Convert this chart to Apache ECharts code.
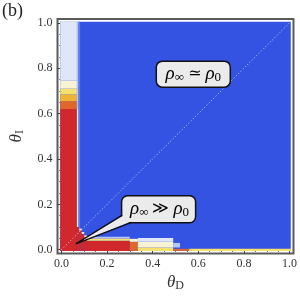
<!DOCTYPE html>
<html><head><meta charset="utf-8">
<script src="https://cdn.jsdelivr.net/npm/echarts@6/dist/echarts.min.js"></script>
<style>html,body{margin:0;padding:0;background:#fff}#c{width:300px;height:297px}</style>
</head><body><div id="c"></div>
<script>
// ---- data ----
const majorTicks = [0, 0.2, 0.4, 0.6, 0.8, 1.0];
const tickLabels = ['0.0', '0.2', '0.4', '0.6', '0.8', '1.0'];
const minorTicks = [0.05, 0.1, 0.15, 0.25, 0.3, 0.35, 0.45, 0.5, 0.55, 0.65, 0.7, 0.75, 0.85, 0.9, 0.95];
// colour levels of the density map (low ratio -> high ratio)
const levelColors = ['#3453e3', '#5d7bea', '#b7c7f3', '#dfe6f7', '#f9f3d6', '#f6e070', '#efb436', '#e0672c', '#d0282c'];
// map regions: [thetaD0, thetaI0, thetaD1, thetaI1, level]
const regions = [
  [-0.005, -0.005, 1.005, 1.005, 0],
  [-0.005, -0.005, 0.068, 0.62, 8],
  [-0.005, 0.62, 0.068, 0.655, 7],
  [-0.005, 0.655, 0.068, 0.685, 6],
  [-0.005, 0.685, 0.068, 0.71, 5],
  [-0.005, 0.71, 0.068, 0.745, 4],
  [-0.005, 0.745, 0.068, 1.005, 3],
  [0.068, 0.10, 0.075, 0.62, 4],
  [0.068, 0.62, 0.075, 1.005, 2],
  [0.075, 0.09, 0.082, 1.005, 1],
  [0.068, -0.005, 0.078, 0.10, 8],
  [0.078, -0.005, 0.089, 0.085, 8],
  [0.089, -0.005, 0.10, 0.07, 8],
  [0.10, -0.005, 0.112, 0.055, 8],
  [0.078, 0.085, 0.089, 0.093, 4],
  [0.089, 0.07, 0.10, 0.078, 4],
  [0.10, 0.055, 0.112, 0.063, 4],
  [0.112, -0.005, 0.30, 0.04, 8],
  [0.112, 0.04, 0.30, 0.05, 5],
  [0.112, 0.05, 0.30, 0.057, 2],
  [0.30, -0.005, 0.335, 0.035, 7],
  [0.30, 0.035, 0.335, 0.048, 4],
  [0.335, -0.005, 0.49, 0.01, 5],
  [0.335, 0.01, 0.49, 0.035, 4],
  [0.335, 0.035, 0.49, 0.052, 3],
  [0.49, 0.01, 0.52, 0.03, 2],
  [0.49, -0.005, 0.56, 0.004, 7],
  [0.56, -0.005, 1.005, 0.004, 5]
];
const diagonal = [[0, 0], [1, 1]];
// annotation anchors (data coordinates)
const noteEqual = { center: [0.578, 0.774] };
const noteMuch = { center: [0.426, 0.181], tip: [0.063, 0.026] };

const chart = echarts.init(document.getElementById('c'), null, { renderer: 'canvas' });
const AX_MIN = -0.017, AX_MAX = 1.017;
const serif = 'Liberation Serif';
const fmt = v => { for (let i = 0; i < majorTicks.length; i++) if (Math.abs(v - majorTicks[i]) < 1e-6) return tickLabels[i]; return ''; };

function mkAxis(kind, pos, ticks, len, withLabels, extra) {
  const a = {
    type: 'value', min: AX_MIN, max: AX_MAX, position: pos,
    axisLine: { show: false }, splitLine: { show: false },
    axisTick: { show: true, inside: true, length: len, customValues: ticks, lineStyle: { color: '#444', width: 1 } },
    axisLabel: withLabels ? { show: true, customValues: majorTicks, formatter: fmt, fontFamily: serif, fontSize: 12, color: '#333', margin: kind === 'x' ? 4 : 5 } : { show: false }
  };
  return Object.assign(a, extra || {});
}

const xName = { name: '{t|θ}{s|D}', nameLocation: 'middle', nameGap: 14,
  nameTextStyle: { rich: { t: { fontFamily: serif, fontStyle: 'italic', fontSize: 17, color: '#333' }, s: { fontFamily: serif, fontSize: 12, color: '#333', padding: [6, 0, 0, 0] } } } };
const yName = { name: '{t|θ}{s|I}', nameLocation: 'middle', nameGap: 32, nameRotate: 90,
  nameTextStyle: { rich: { t: { fontFamily: serif, fontStyle: 'italic', fontSize: 17, color: '#333' }, s: { fontFamily: serif, fontSize: 12, color: '#333', padding: [6, 0, 0, 0] } } } };

const option = {
  animation: false,
  backgroundColor: '#fff',
  grid: { left: 51, top: 19, width: 244, height: 244, show: true, borderColor: '#5a5a5a', borderWidth: 2, backgroundColor: 'transparent' },
  xAxis: [
    mkAxis('x', 'bottom', majorTicks, 4, true, xName),
    mkAxis('x', 'bottom', minorTicks, 2, false),
    mkAxis('x', 'top', majorTicks, 4, false),
    mkAxis('x', 'top', minorTicks, 2, false)
  ],
  yAxis: [
    mkAxis('y', 'left', majorTicks, 4, true, yName),
    mkAxis('y', 'left', minorTicks, 2, false),
    mkAxis('y', 'right', majorTicks, 4, false),
    mkAxis('y', 'right', minorTicks, 2, false)
  ],
  series: [
    {
      type: 'custom', xAxisIndex: 0, yAxisIndex: 0, z: 1,
      data: regions,
      encode: { x: [0, 2], y: [1, 3] },
      renderItem: function (params, api) {
        const p0 = api.coord([api.value(0), api.value(1)]);
        const p1 = api.coord([api.value(2), api.value(3)]);
        return {
          type: 'rect',
          shape: { x: p0[0], y: p1[1], width: p1[0] - p0[0], height: p0[1] - p1[1] },
          style: { fill: levelColors[api.value(4)] }
        };
      }
    },
    {
      type: 'line', xAxisIndex: 0, yAxisIndex: 0, z: 3,
      data: diagonal, symbol: 'none', silent: true,
      lineStyle: { color: 'rgba(225,232,255,0.85)', width: 1, type: [1, 2.2] }
    }
  ]
};
chart.setOption(option);

function px(p) { return chart.convertToPixel({ gridIndex: 0 }, p); }
const richBox = {
  r: { fontFamily: serif, fontStyle: 'italic', fontSize: 19, color: '#333' },
  s: { fontFamily: serif, fontSize: 13, color: '#333', padding: [7, 0, 0, 0] },
  o: { fontFamily: 'DejaVu Serif', fontSize: 16, color: '#333', padding: [0, 4, 0, 4] }
};
const c1 = px(noteEqual.center), c2 = px(noteMuch.center), tip = px(noteMuch.tip);
const bw = 74, bh = 26;
const b2x = c2[0] - bw / 2, b2y = c2[1] - bh / 2;
chart.setOption({
  graphic: [
    { type: 'text', left: 2, top: 2, z: 10, style: { text: '(b)', font: '18px "Liberation Serif"', fill: '#222' } },
    { type: 'rect', z: 10, shape: { x: c1[0] - bw / 2, y: c1[1] - bh / 2, width: bw, height: bh, r: 6 }, style: { fill: '#ebebeb', stroke: '#111', lineWidth: 1.5 } },
    { type: 'text', z: 11, x: c1[0], y: c1[1], style: { text: '{r|ρ}{s|∞}{o|≃}{r|ρ}{s|0}', rich: richBox, align: 'center', verticalAlign: 'middle' } },
    { type: 'rect', z: 10, shape: { x: b2x, y: b2y, width: bw, height: bh + 1, r: 6 }, style: { fill: '#ebebeb', stroke: '#111', lineWidth: 1.5 } },
    { type: 'polygon', z: 11, shape: { points: [tip, [b2x + 1.5, b2y + bh - 6], [b2x + 6, b2y + bh - 2], [b2x + 10, b2y + bh - 0.5]] }, style: { fill: '#ebebeb' } },
    { type: 'polyline', z: 12, shape: { points: [[b2x + 0.6, b2y + bh - 6.5], tip, [b2x + 10, b2y + bh + 0.6]] }, style: { stroke: '#111', lineWidth: 1.3, fill: null } },
    { type: 'text', z: 12, x: c2[0] + 1, y: c2[1], style: { text: '{r|ρ}{s|∞}{o|≫}{r|ρ}{s|0}', rich: richBox, align: 'center', verticalAlign: 'middle' } }
  ]
});
</script>
</body></html>
